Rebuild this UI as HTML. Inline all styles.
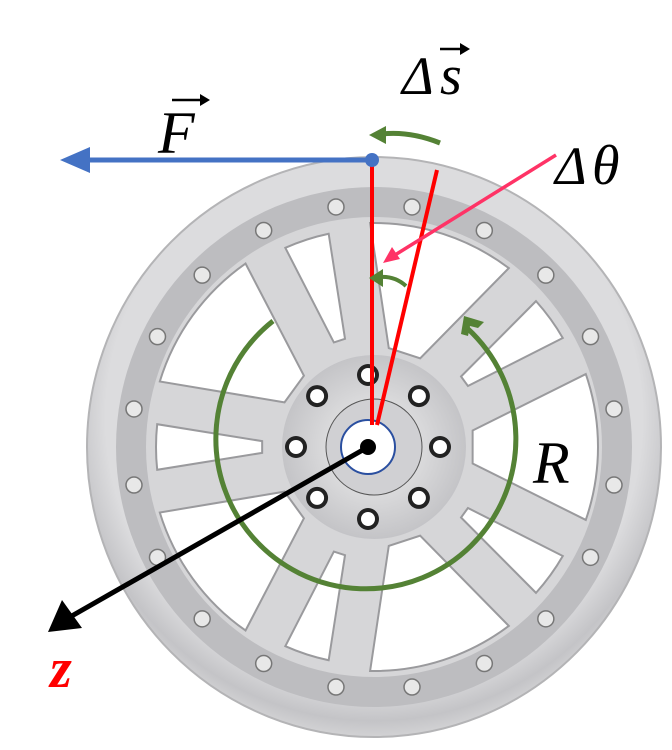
<!DOCTYPE html>
<html><head><meta charset="utf-8"><style>
html,body{margin:0;padding:0;background:#fff;width:672px;height:750px;overflow:hidden}
svg{display:block}
text{font-family:"Liberation Serif",serif;font-style:italic}
</style></head><body>
<svg id="s" width="672" height="750" viewBox="0 0 672 750" xmlns="http://www.w3.org/2000/svg">
<defs>
<radialGradient id="rim" cx="50%" cy="45%" r="55%">
<stop offset="0.85" stop-color="#dcdcde"/><stop offset="0.95" stop-color="#c4c4c7"/><stop offset="1" stop-color="#d2d2d4"/>
</radialGradient>
<radialGradient id="hub" cx="50%" cy="50%" r="50%">
<stop offset="0" stop-color="#f2f2f2"/><stop offset="1" stop-color="#c4c4c7"/>
</radialGradient>
</defs>
<ellipse cx="374" cy="447" rx="287" ry="290" fill="url(#rim)" stroke="#b4b4b6" stroke-width="2"/>
<ellipse cx="374" cy="447" rx="258" ry="260" fill="#bdbdc0"/>
<ellipse cx="374" cy="447" rx="228" ry="230" fill="#d6d6d8"/>
<g id="win"></g>
<circle cx="374" cy="447" r="92" fill="url(#hub)"/>
<circle cx="374" cy="447" r="48" fill="#d0d0d3" stroke="#555" stroke-width="1"/>
<g id="nuts"></g>
<circle cx="368" cy="447" r="27" fill="#fff" stroke="#2a4fa0" stroke-width="2"/>
<circle cx="368" cy="447" r="8" fill="#000"/>
<line x1="372" y1="158" x2="372" y2="425" stroke="#f00" stroke-width="4"/>
<line x1="437" y1="170" x2="377" y2="425" stroke="#f00" stroke-width="4"/>
<line x1="85" y1="160" x2="372" y2="160" stroke="#4472c4" stroke-width="5"/>
<polygon points="60,160 90,147 90,173" fill="#4472c4"/>
<circle cx="372" cy="160" r="7" fill="#4472c4"/>
<path d="M273,321 A150,150 0 1 0 467,328" fill="none" stroke="#548235" stroke-width="5"/>
<polygon points="464,316 484,322 478,328 470,326 468,336 461,334" fill="#548235"/>
<path d="M440,143 Q410,131 382,134" fill="none" stroke="#548235" stroke-width="5"/>
<polygon points="369,135 386,126 386,144" fill="#548235"/>
<path d="M406,286 Q395,276 380,277" fill="none" stroke="#548235" stroke-width="4"/>
<polygon points="369,278 383,269 383,287" fill="#548235"/>
<line x1="556" y1="155" x2="395" y2="255" stroke="#ff3366" stroke-width="3.5"/>
<polygon points="383,263 392,247 400,259" fill="#ff3366"/>
<line x1="368" y1="447" x2="70" y2="617" stroke="#000" stroke-width="5"/>
<polygon points="48,632 62,600 82,628" fill="#000"/>
<text x="158" y="153" font-size="60">F</text>
<line x1="172" y1="100" x2="204" y2="100" stroke="#000" stroke-width="2.5"/>
<polygon points="210,100 200,94 200,106" fill="#000"/>
<text x="402" y="94" font-size="54" font-style="normal">Δ</text>
<text x="440" y="94" font-size="56">s</text>
<line x1="440" y1="49" x2="464" y2="49" stroke="#000" stroke-width="2.5"/>
<polygon points="470,49 460,43 460,55" fill="#000"/>
<text x="555" y="184" font-size="54" font-style="normal">Δ</text>
<text x="592" y="184" font-size="56">θ</text>
<text x="533" y="483" font-size="60">R</text>
<text x="50" y="687" font-size="56" fill="#f00" font-weight="bold">z</text>
</svg>
<script>
var cx=374,cy=447;
function P(r,a){a=(a-90)*Math.PI/180;return [cx+r*Math.cos(a),cy+r*Math.sin(a)];}
var w=document.getElementById('win'),h='';
for(var i=0;i<10;i++){
 var c=i*36+18, big=(i%2==0);
 var hw=big?19:6, r1=big?100:112, r2=big?224:218;
 var a=P(r1,c-hw*0.5),b=P(r2,c-hw),d=P(r2,c+hw),e=P(r1,c+hw*0.5);
 h+='<path d="M'+a+' L'+b+' A'+r2+','+r2+' 0 0 1 '+d+' L'+e+' Z" fill="#fff" stroke="#9a9a9d" stroke-width="2"/>';
}
for(var i=0;i<20;i++){
 var p=P(243,i*18+9);
 h+='<circle cx="'+p[0]+'" cy="'+p[1]+'" r="8" fill="#e8e8e8" stroke="#777" stroke-width="1.5"/>';
}
w.innerHTML=h;
var n=document.getElementById('nuts'),g='';
for(var i=0;i<8;i++){
 var a=(i*45)*Math.PI/180;var x=368+72*Math.sin(a),y=447-72*Math.cos(a);
 g+='<circle cx="'+x+'" cy="'+y+'" r="11" fill="#222"/><circle cx="'+x+'" cy="'+y+'" r="7" fill="#fff"/>';
}
n.innerHTML=g;
</script>
</body></html>
